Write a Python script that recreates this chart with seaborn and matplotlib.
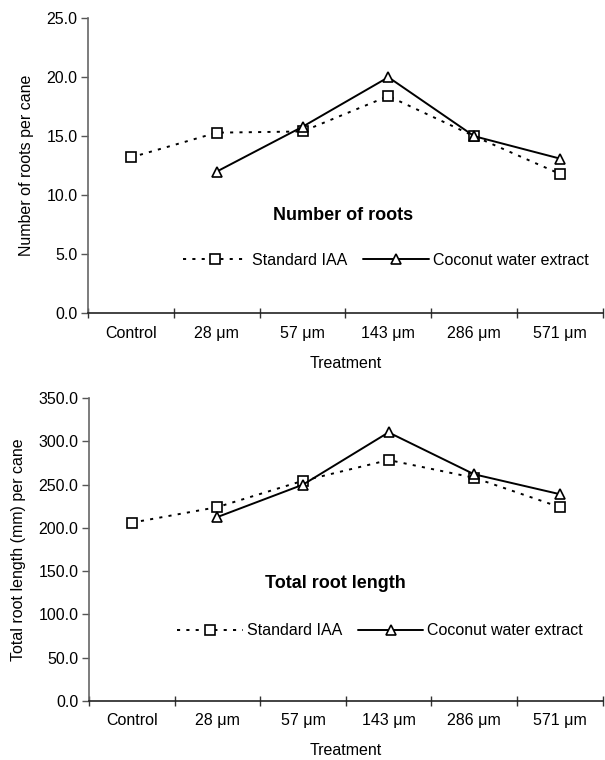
import matplotlib
matplotlib.use("Agg")
import matplotlib.pyplot as plt
import numpy as np
import pandas as pd
import seaborn as sns


treatments = ["Control", "28 \u03bcm", "57 \u03bcm", "143 \u03bcm", "286 \u03bcm", "571 \u03bcm"]
series_names = ["Standard IAA", "Coconut water extract"]

roots_iaa = [13.2, 15.3, 15.4, 18.4, 15.0, 11.8]
roots_coconut = [np.nan, 12.0, 15.8, 20.0, 15.0, 13.1]

length_iaa = [206.0, 224.0, 254.5, 278.5, 258.0, 224.0]
length_coconut = [np.nan, 212.5, 250.0, 310.5, 262.0, 239.0]

sns.set_theme(style="white")
plt.rcParams["font.family"] = ["Liberation Sans", "DejaVu Sans"]
plt.rcParams["axes.unicode_minus"] = False
plt.rcParams["text.color"] = "black"
plt.rcParams["axes.labelcolor"] = "black"
plt.rcParams["xtick.color"] = "black"
plt.rcParams["ytick.color"] = "black"

FS = 11.5


def long_frame(iaa, coconut):
    rows = []
    for name, vals in zip(series_names, [iaa, coconut]):
        for i, v in enumerate(vals):
            rows.append({"pos": i, "treatment": treatments[i], "series": name, "value": v})
    return pd.DataFrame(rows).dropna()


def draw_panel(ax, df, ymax, ystep, ylabel, title, title_xy, leg_xy):
    sns.lineplot(
        data=df, x="pos", y="value", hue="series", style="series",
        palette={n: "black" for n in series_names},
        dashes={"Standard IAA": (1.6, 3.2), "Coconut water extract": ""},
        markers={"Standard IAA": "s", "Coconut water extract": "^"},
        markersize=6.5, markerfacecolor="white", markeredgecolor="black",
        markeredgewidth=1.2, linewidth=1.4, ax=ax,
    )
    ax.set_xlim(-0.5, len(treatments) - 0.5)
    ax.set_ylim(0, ymax)
    yt = np.arange(0, ymax + ystep / 2, ystep)
    ax.set_yticks(yt)
    ax.set_yticklabels([f"{v:.1f}" for v in yt], fontsize=FS)
    ax.set_xticks(np.arange(-0.5, len(treatments)))
    ax.set_xticklabels([])
    ax.set_xticks(np.arange(len(treatments)), minor=True)
    ax.set_xticklabels(treatments, minor=True, fontsize=FS)
    ax.tick_params(axis="x", which="major", bottom=True, direction="inout", length=7,
                   width=1, color="#333333")
    ax.tick_params(axis="x", which="minor", bottom=False, length=0, pad=9)
    ax.tick_params(axis="y", left=True, direction="out", length=5, width=1,
                   color="#555555", pad=2.5)
    for side in ["top", "right"]:
        ax.spines[side].set_visible(False)
    ax.spines["left"].set_color("#666666")
    ax.spines["bottom"].set_color("#222222")
    ax.spines["left"].set_linewidth(1.2)
    ax.spines["bottom"].set_linewidth(1.2)
    ax.set_xlabel("Treatment", fontsize=FS, labelpad=11)
    ax.set_ylabel(ylabel, fontsize=FS, labelpad=9)
    ax.text(title_xy[0], title_xy[1], title, transform=ax.transAxes,
            ha="center", va="center", fontsize=13, fontweight="bold")

    handles, labels = ax.get_legend_handles_labels()
    leg = ax.legend(handles, labels, loc="center", bbox_to_anchor=leg_xy, ncol=2,
                    frameon=False, fontsize=FS, handlelength=4.1, handletextpad=0.25,
                    columnspacing=1.0)
    for h in leg.legend_handles:
        h.set_markerfacecolor("white")
        h.set_markeredgecolor("black")
        h.set_color("black")


fig = plt.figure(figsize=(6.05, 7.6), dpi=100)
ax1 = fig.add_axes([0.1455, 0.588, 0.851, 0.388])
ax2 = fig.add_axes([0.147, 0.078, 0.849, 0.398])

draw_panel(ax1, long_frame(roots_iaa, roots_coconut), 25, 5,
           "Number of roots per cane", "Number of roots", (0.495, 0.332), (0.578, 0.18))
draw_panel(ax2, long_frame(length_iaa, length_coconut), 350, 50,
           "Total root length (mm) per cane", "Total root length", (0.479, 0.389), (0.567, 0.231))

fig.savefig("out.png", dpi=100)
plt.close(fig)
